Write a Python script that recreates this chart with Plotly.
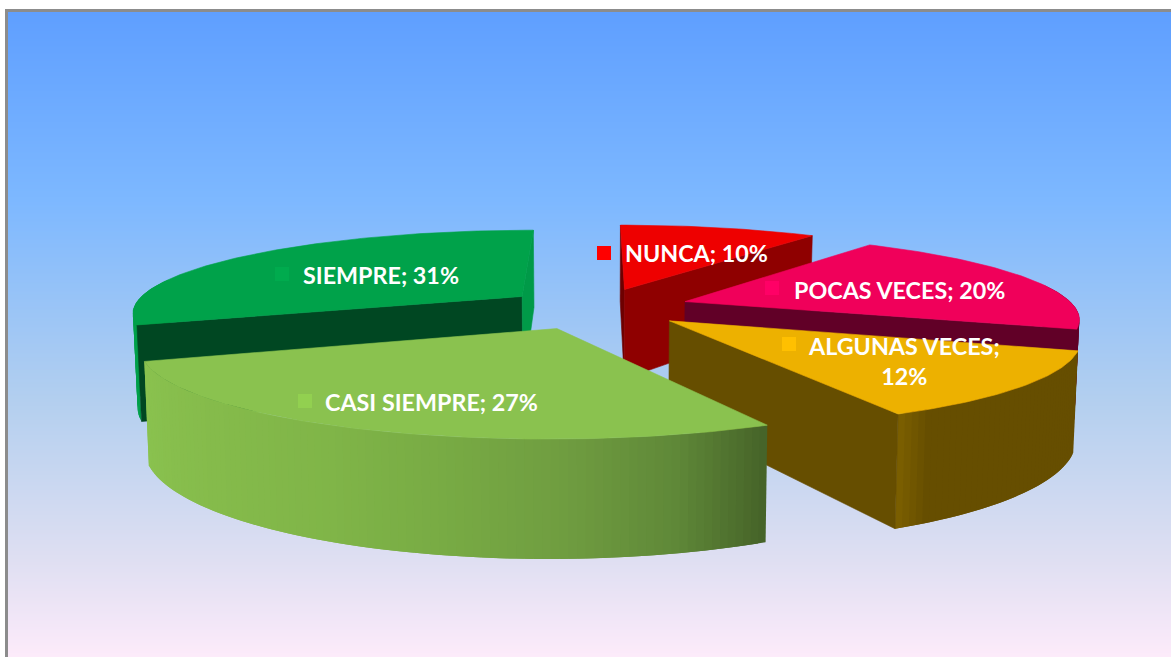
import math
import plotly.graph_objects as go

# ---- data (drawing order: back to front) ----
CATEGORIES = ["SIEMPRE", "NUNCA", "POCAS VECES", "ALGUNAS VECES", "CASI SIEMPRE"]
# clockwise pie order, from 12 o'clock
PIE_ORDER = ["NUNCA", "POCAS VECES", "ALGUNAS VECES", "CASI SIEMPRE", "SIEMPRE"]
PIE_VALUES = [9.9, 20.4, 12.4, 26.8, 30.6]

TOP_COLORS = {"NUNCA": "#ee0000", "POCAS VECES": "#f0005a", "ALGUNAS VECES": "#edb100",
              "CASI SIEMPRE": "#8ac24f", "SIEMPRE": "#00a24a"}
KEY_COLORS = {"NUNCA": "#ff0000", "POCAS VECES": "#ff0066", "ALGUNAS VECES": "#ffc000",
              "CASI SIEMPRE": "#92d050", "SIEMPRE": "#00ab4e"}
# colour of the two cut faces (None = faces away from the viewer)
START_FACE = {"NUNCA": "#6e0000", "POCAS VECES": None, "ALGUNAS VECES": None,
              "CASI SIEMPRE": None, "SIEMPRE": "#004722"}
END_FACE = {"NUNCA": "#8f0000", "POCAS VECES": "#610027", "ALGUNAS VECES": "#664e00",
            "CASI SIEMPRE": None, "SIEMPRE": "#009a48"}
# outer wall colour ramp from the start to the end of each slice's arc
WALL_RAMP = {"NUNCA": [(0, "#8f0000"), (1, "#8f0000")],
             "POCAS VECES": [(0, "#610027"), (1, "#610027")],
             "ALGUNAS VECES": [(0, "#664e00"), (0.9, "#664e00"), (1, "#7d6000")],
             "CASI SIEMPRE": [(0, "#456228"), (0.12, "#5f8838"), (0.25, "#6f9c40"), (0.4, "#78ab44"),
                              (0.55, "#80b548"), (0.75, "#85bb4b"), (1, "#8ac24f")],
             "SIEMPRE": [(0, "#00a04a"), (1, "#00a04a")]}

# ---- camera and layout ----
W, H = 1171, 657
VX, VY, SCALE_X, DEPTH_K = 597, -147.5, 390, 0.18
TOP_B, BOTTOM_B = 455, 548
BOTTOM_SHRINK = 0.99
EXPLODE = {"NUNCA": 0.24, "POCAS VECES": 0.24, "ALGUNAS VECES": 0.24, "CASI SIEMPRE": 0.265, "SIEMPRE": 0.24}

LABEL_TEXT_POS = {"NUNCA": (623, 253, "left"), "POCAS VECES": (792, 290, "left"),
                  "ALGUNAS VECES": (904, 361, "center"), "CASI SIEMPRE": (323, 402, "left"),
                  "SIEMPRE": (301, 275, "left")}
LABEL_KEY_POS = {"NUNCA": (604, 253), "POCAS VECES": (772, 288), "ALGUNAS VECES": (789, 344),
                 "CASI SIEMPRE": (305, 401), "SIEMPRE": (282, 274)}

GRAD_Y = [12, 200, 400, 560, 657]
GRAD_C = ["#5f9fff", "#7db8ff", "#b3cfef", "#dfdff2", "#fdebfa"]


def project(x, y, bottom=False):
    s = 1 / (1 + DEPTH_K * y)
    sx = SCALE_X * x * s
    if bottom:
        return VX + sx * BOTTOM_SHRINK, VY + BOTTOM_B * s
    return VX + sx, VY + TOP_B * s


def hex2rgb(h):
    return tuple(int(h[i:i + 2], 16) for i in (1, 3, 5))


def ramp(stops, t):
    for (t0, c0), (t1, c1) in zip(stops, stops[1:]):
        if t <= t1:
            f = (t - t0) / (t1 - t0) if t1 > t0 else 0
            a, b = hex2rgb(c0), hex2rgb(c1)
            return "rgb(%d,%d,%d)" % tuple(round(p + (q - p) * f) for p, q in zip(a, b))
    return stops[-1][1]


def poly(pts, color, edge=0.6):
    xs = [p[0] for p in pts] + [pts[0][0]]
    ys = [p[1] for p in pts] + [pts[0][1]]
    return go.Scatter(x=xs, y=ys, mode="lines", fill="toself", fillcolor=color,
                      line=dict(color=color, width=edge), hoverinfo="skip", showlegend=False)


# angles from values
total = sum(PIE_VALUES)
angles = {}
acc = 0.0
for name, v in zip(PIE_ORDER, PIE_VALUES):
    angles[name] = (acc / total * 2 * math.pi, (acc + v) / total * 2 * math.pi)
    acc += v

traces = []
# background gradient
traces.append(go.Heatmap(x=[0, W], y=GRAD_Y, z=[[g, g] for g in GRAD_Y], zsmooth="best",
                         zmin=GRAD_Y[0], zmax=GRAD_Y[-1],
                         colorscale=[[(g - GRAD_Y[0]) / (GRAD_Y[-1] - GRAD_Y[0]), c] for g, c in zip(GRAD_Y, GRAD_C)],
                         showscale=False, hoverinfo="skip"))

for name in CATEGORIES:
    a0, a1 = angles[name]
    mid = (a0 + a1) / 2
    cx, cy = EXPLODE[name] * math.sin(mid), EXPLODE[name] * math.cos(mid)
    n = max(8, int((a1 - a0) / math.radians(1.0)))
    arc = [a0 + (a1 - a0) * i / n for i in range(n + 1)]
    rim = [(cx + math.sin(a), cy + math.cos(a)) for a in arc]
    # outer wall: only the part turned towards the viewer, strips overlap to hide seams
    for i in range(n):
        if math.cos(arc[i]) > 0.2 and math.cos(arc[i + 1]) > 0.2:
            continue
        t = (i + 0.5) / n
        col = ramp(WALL_RAMP[name], t)
        j = min(i + 2, n)
        traces.append(poly([project(*rim[i]), project(*rim[j]),
                            project(*rim[j], bottom=True), project(*rim[i], bottom=True)], col, edge=0))
    # cut faces
    if START_FACE[name]:
        traces.append(poly([project(cx, cy), project(*rim[0]), project(*rim[0], bottom=True),
                            project(cx, cy, bottom=True)], START_FACE[name]))
    if END_FACE[name]:
        traces.append(poly([project(cx, cy), project(*rim[-1]), project(*rim[-1], bottom=True),
                            project(cx, cy, bottom=True)], END_FACE[name]))
    # top
    traces.append(poly([project(cx, cy)] + [project(*r) for r in rim], TOP_COLORS[name]))

# legend keys inside the data labels
traces.append(go.Scatter(x=[LABEL_KEY_POS[c][0] for c in CATEGORIES],
                         y=[LABEL_KEY_POS[c][1] for c in CATEGORIES],
                         mode="markers",
                         marker=dict(symbol="square", size=14, color=[KEY_COLORS[c] for c in CATEGORIES]),
                         hoverinfo="skip", showlegend=False))

percent = dict(zip(PIE_ORDER, [round(v) for v in PIE_VALUES]))
annotations = []
for c in CATEGORIES:
    x, y, anchor = LABEL_TEXT_POS[c]
    sep = ";<br>" if c == "ALGUNAS VECES" else "; "
    annotations.append(dict(x=x, y=y, xref="x", yref="y", text=f"<b>{c}{sep}{percent[c]}%</b>",
                            showarrow=False, xanchor=anchor, yanchor="middle", align="center",
                            font=dict(family="Lato", size=23.3, color="white")))

fig = go.Figure(traces)
fig.update_layout(
    width=W, height=H, margin=dict(l=0, r=0, t=0, b=0),
    paper_bgcolor="white", plot_bgcolor="white",
    xaxis=dict(range=[0, W], visible=False, fixedrange=True),
    yaxis=dict(range=[H, 0], visible=False, fixedrange=True),
    annotations=annotations,
    shapes=[
        dict(type="rect", xref="x", yref="y", x0=0, x1=W, y0=0, y1=9, fillcolor="white", line_width=0, layer="above"),
        dict(type="rect", xref="x", yref="y", x0=0, x1=5, y0=0, y1=H, fillcolor="white", line_width=0, layer="above"),
        dict(type="rect", xref="x", yref="y", x0=5, x1=W, y0=9, y1=12, fillcolor="#8c8c8c", line_width=0, layer="above"),
        dict(type="rect", xref="x", yref="y", x0=5, x1=8, y0=9, y1=H, fillcolor="#8c8c8c", line_width=0, layer="above"),
    ],
)
fig.write_html("out.html", config=dict(displayModeBar=False),
               post_script="document.body.style.margin='0';document.body.style.overflow='hidden';")
